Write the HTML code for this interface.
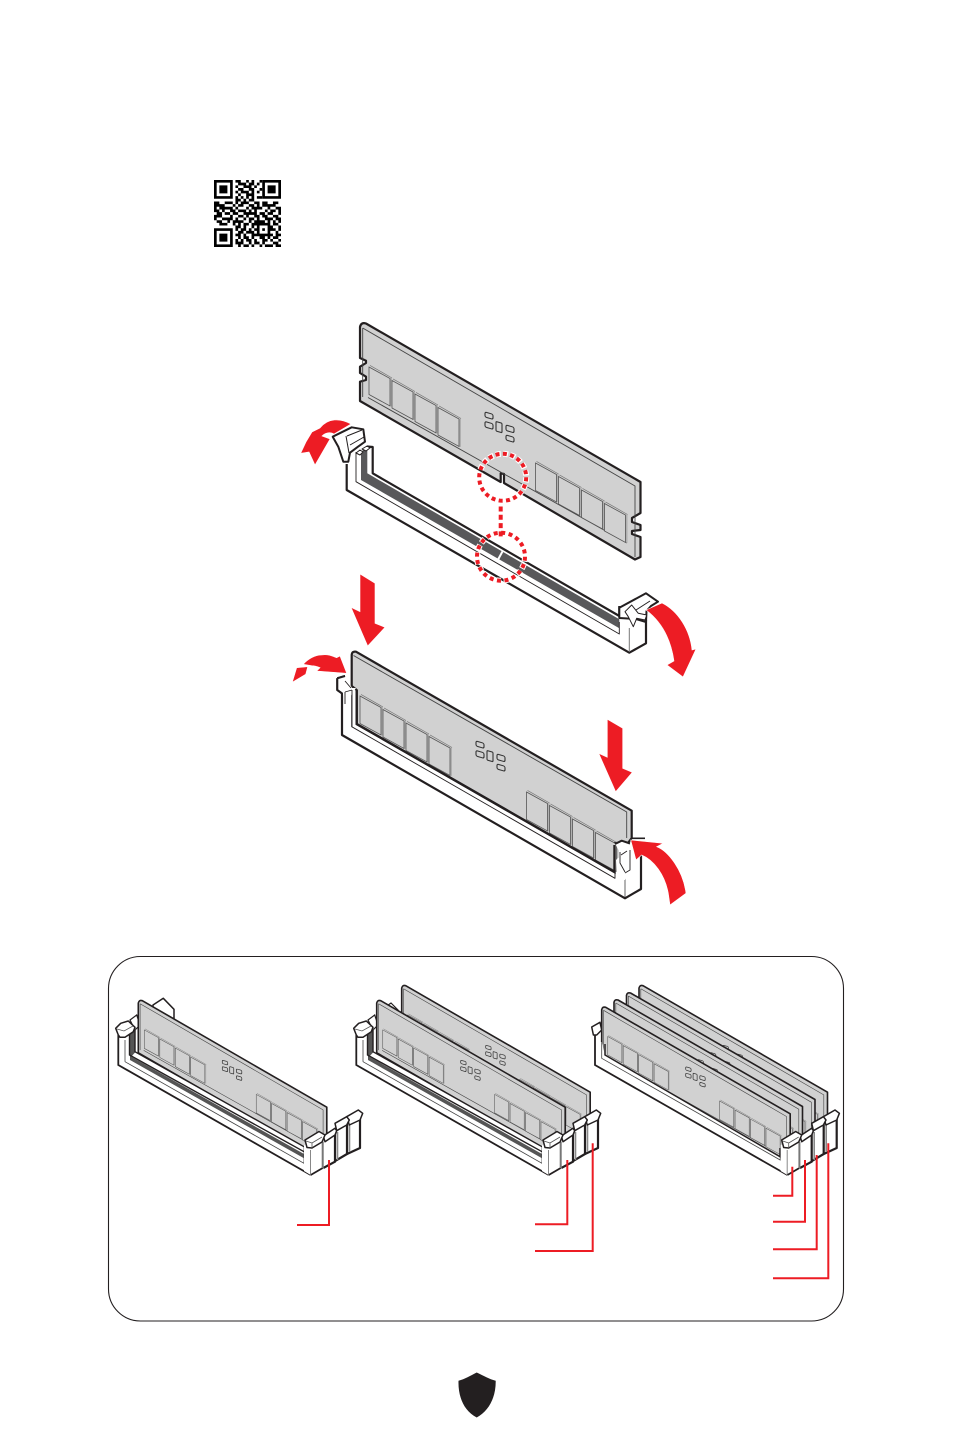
<!DOCTYPE html>
<html lang="en"><head><meta charset="utf-8"><title>Memory module installation</title>
<style>html,body{margin:0;padding:0;background:#fff}svg{display:block}</style></head>
<body>
<svg xmlns="http://www.w3.org/2000/svg" width="954" height="1431" viewBox="0 0 954 1431">
<defs>
<g id="chip">
  <polygon points="21,11.5 23,11 23,39.5 21,39" fill="#b0b0b0"/>
  <polygon points="0,0 21,11.5 21,39 0,27.5" fill="#d1d1d1" stroke="#555" stroke-width=".8"/>
  <polyline points="1,-1.6 23,11" fill="none" stroke="#777" stroke-width=".7"/>
</g>
<g id="comps" fill="#d1d1d1" stroke="#333" stroke-width="1.1">
  <rect width="8" height="5" rx="1.5" transform="translate(485,412) skewY(16)"/>
  <rect width="8" height="5.5" rx="1.5" transform="translate(485,421.5) skewY(16)"/>
  <rect width="6" height="9.5" rx="1" transform="translate(496,421.5) skewY(16)"/>
  <rect width="8" height="5.5" rx="1.5" transform="translate(506,425) skewY(16)"/>
  <rect width="8" height="5" rx="1.5" transform="translate(506,435) skewY(16)"/>
</g>
<g id="parts">
  <path d="M362.7,328L635,486V557M368,397.5L627,543M362.7,328V397" fill="none" stroke="#444" stroke-width=".9"/>
  <use href="#chip" x="369" y="367"/><use href="#chip" x="392" y="380.5"/><use href="#chip" x="415" y="394"/><use href="#chip" x="438" y="407.5"/>
  <use href="#chip" x="535.5" y="463"/><use href="#chip" x="558.5" y="476.5"/><use href="#chip" x="581.5" y="490"/><use href="#chip" x="604.5" y="503.5"/>
  <use href="#comps"/>
</g>
<g id="d">
  <path d="M360,327Q361,322 366,323.5L640.5,482V557L635,559.5L360,401Z" fill="#d1d1d1" stroke="#231f20" stroke-width="2.4" stroke-linejoin="round"/>
  <use href="#parts"/>
</g>
<g id="blocks" stroke="#231f20" stroke-linejoin="round">
  <polygon points="347,1122 360,1118 360,1148 347,1154" fill="#fff" stroke="none"/>
  <path d="M360,1118V1148L347,1154" fill="none" stroke-width="2.2"/>
  <path d="M349.5,1124V1152" stroke="#888" stroke-width="1.6" fill="none"/>
  <polygon points="346.7,1116.7 358.3,1110 362.7,1113.3 360,1120 349.3,1125" fill="#fff" stroke-width="1.5"/>
  <polygon points="335,1130 347,1124 347,1154 334,1161.7" fill="#fff" stroke="none"/>
  <path d="M347,1122V1154L334,1161.7" fill="none" stroke-width="2.2"/>
  <path d="M337.5,1132V1160" stroke="#888" stroke-width="1.6" fill="none"/>
  <polygon points="335,1123.3 346.7,1116.7 349.3,1120 346.7,1125 336.7,1130.7" fill="#fff" stroke-width="1.5"/>
  <polygon points="323.3,1138 335,1132 335,1161.7 323.3,1168" fill="#fff" stroke="none"/>
  <path d="M335,1132V1161.7L323.3,1168" fill="none" stroke-width="2.2"/>
  <polygon points="323.3,1136 335,1128.3 336.7,1130.7 335,1135 325,1141.7" fill="#fff" stroke-width="1.5"/>
</g>
<g id="frontEnd" stroke="#231f20" stroke-linejoin="round">
  <polygon points="304,1145 322.7,1140 322.7,1168 310.7,1175 304,1171" fill="#fff" stroke="none"/>
  <path d="M322.7,1168L310.7,1175" fill="none" stroke-width="1.8"/>
  <path d="M322.7,1142V1168" fill="none" stroke="#777" stroke-width="2"/>
  <path d="M310.5,1150V1174" fill="none" stroke="#888" stroke-width="1"/>
  <polygon points="305,1140 319,1131.5 325,1135 322,1142 312,1148 307,1147.5" fill="#fff" stroke-width="1.5"/>
  <path d="M306,1141L312,1143L322,1137M312,1143V1148" fill="none" stroke="#555" stroke-width=".8"/>
</g>
<g id="frontA">
  <polygon points="118.3,1045 118.3,1065 310.7,1175 310,1150 304,1146.7 135,1051.7 129.3,1035 125,1032" fill="#fff"/>
  <polygon points="129.5,1031 135.5,1028 135.5,1052 130,1058" fill="#555"/>
  <polygon points="130,1056 304,1154 304,1158.3 130,1060" fill="#555"/>
  <path d="M118.3,1035V1065L310.7,1175" fill="none" stroke="#231f20" stroke-width="1.8"/>
  <path d="M125,1061.7L304,1163.3V1146M125,1040V1061.7" fill="none" stroke="#444" stroke-width=".8"/>
  <path d="M129.5,1032V1055L304,1151.7M135,1030V1051.7L304,1146.7" fill="none" stroke="#231f20" stroke-width="1.4"/>
  <use href="#frontEnd"/>
  <polygon points="115.7,1028.3 120.7,1023.3 128.3,1021 135,1027.3 133.3,1031.7 125,1037.3 120,1037.3 118.3,1035" fill="#fff" stroke="#231f20" stroke-width="1.5" stroke-linejoin="round"/>
  <path d="M117,1029L124,1031L133,1026" fill="none" stroke="#555" stroke-width=".8"/>
</g>
<g id="frontB">
  <polygon points="118.3,1042 125,1042 128.3,1055 304,1156.7 310,1148 311,1175 118.3,1065" fill="#fff"/>
  <path d="M118.3,1035V1065L310.7,1175" fill="none" stroke="#231f20" stroke-width="1.8"/>
  <path d="M125,1042V1058.3L303.5,1160V1150" fill="none" stroke="#444" stroke-width=".8"/>
  <path d="M128.3,1044V1055L303.3,1156.7V1148" fill="none" stroke="#231f20" stroke-width="1.5"/>
  <use href="#frontEnd"/>
</g>
</defs>
<rect width="954" height="1431" fill="#fff"/>

<!-- QR -->
<g transform="translate(214,180) scale(2.68)" fill="none" stroke="#000">
  <path stroke-width="1" d="M.5 .5h6v6h-6zM18.5 .5h6v6h-6zM.5 18.5h6v6h-6z"/>
  <path fill="#000" stroke="none" d="M2 2h3v3H2zM20 2h3v3h-3zM2 20h3v3H2z"/>
  <path stroke-width="1" d="M8 .5h2M12 .5h1M14 .5h1M17 .5h1M9 1.5h3M13 1.5h2M16 1.5h1M8 2.5h1M11 2.5h3M15 2.5h1M9 3.5h2M13 3.5h2M17 3.5h1M8 4.5h1M10 4.5h3M14 4.5h1M16 4.5h1M9 5.5h1M12 5.5h3M8 6.5h1M10 6.5h1M12 6.5h1M14 6.5h1M16 6.5h2M8 7.5h2M11 7.5h1M13 7.5h2
  M0 8.5h2M4 8.5h3M8 8.5h1M10 8.5h3M15 8.5h2M18 8.5h2M22 8.5h2
  M0 9.5h4M7 9.5h1M9 9.5h2M13 9.5h2M16 9.5h1M18 9.5h5
  M0 10.5h1M2 10.5h5M8 10.5h1M12 10.5h1M14 10.5h4M20 10.5h1M23 10.5h2
  M0 11.5h2M3 11.5h1M6 11.5h2M9 11.5h3M13 11.5h1M15 11.5h1M19 11.5h1M21 11.5h2M24 11.5h1
  M1 12.5h2M4 12.5h2M7 12.5h2M11 12.5h5M17 12.5h2M20 12.5h2M24 12.5h1
  M0 13.5h3M6 13.5h1M9 13.5h2M12 13.5h1M15 13.5h2M18 13.5h2M22 13.5h2
  M0 14.5h1M3 14.5h4M8 14.5h1M11 14.5h1M13 14.5h2M16 14.5h1M19 14.5h3M23 14.5h2
  M1 15.5h2M5 15.5h1M7 15.5h4M13 15.5h1M15 15.5h4M20 15.5h1M22 15.5h1M24 15.5h1
  M2 16.5h3M7 16.5h1M9 16.5h1M11 16.5h2M14 16.5h7M22 16.5h2
  M8 17.5h2M11 17.5h1M14 17.5h1M16 17.5h1M20 17.5h2M24 17.5h1
  M8 18.5h1M10 18.5h2M13 18.5h1M15 18.5h2M18 18.5h1M20 18.5h3M24 18.5h1
  M9 19.5h2M12 19.5h3M16 19.5h1M20 19.5h1M23 19.5h1
  M8 20.5h2M11 20.5h1M14 20.5h8M23 20.5h2
  M9 21.5h1M11 21.5h2M14 21.5h1M17 21.5h2M20 21.5h1M22 21.5h2
  M8 22.5h1M10 22.5h1M12 22.5h2M15 22.5h1M18 22.5h2M21 22.5h1M24 22.5h1
  M8 23.5h3M13 23.5h1M15 23.5h2M18 23.5h1M22 23.5h2
  M9 24.5h1M11 24.5h2M14 24.5h1M17 24.5h1M19 24.5h3M23 24.5h2"/>
</g>

<!-- Top slot -->
<g stroke="#231f20" stroke-linejoin="round">
  <polygon points="346.7,470 346.7,490 629.3,652.7 646,643.3 646,620 619.3,606 619.3,616 372.7,473.3 372.7,446.7 360,446" fill="#fff" stroke="none"/>
  <polygon points="361,451.7 367.3,447 367.3,473.3 619.3,619.3 619.3,628.3 361,480" fill="#58585a" stroke="none"/>
  <path d="M497,561.5L503,550.5" stroke="#fff" stroke-width="2" fill="none"/>
  <path d="M346.7,464V490L629.3,652.7L646,643.3V620" fill="none" stroke-width="2.2"/>
  <path d="M367,446.5L372.7,447V473.3L619.3,616V606" fill="none" stroke-width="2.2"/>
  <path d="M356,452V481.7L619.3,634V622" fill="none" stroke-width=".9"/>
  <path d="M629.3,652V628" fill="none" stroke="#777" stroke-width="1"/>
  <polygon points="332.7,436.7 351.7,427.3 363.3,429.3 365,441.7 358,446.7 350,452.7 348.3,461.7 343.3,461.7 338.3,446.7" fill="#fff" stroke-width="2"/>
  <path d="M346,436L349,453M347,436L362,430M350,445L364,437" fill="none" stroke-width="1"/>
  <polygon points="356,453 360,450 363,452 360,455" fill="#fff" stroke-width="1"/>
  <polygon points="362,449 367,446 370,448 366,451" fill="#fff" stroke-width="1"/>
  <polygon points="619.3,607.7 646,593.3 658,601.7 651,606 646.5,611 646,622 636,619 619.3,618" fill="#fff" stroke-width="2"/>
  <polygon points="625,611.7 631.7,605 638.3,613.3 646.7,615 645,620 636.7,618.3 633.3,626.7 628.3,616.7" fill="#fff" stroke-width="1"/>
  <path d="M636,610L650,601" fill="none" stroke-width="1"/>
</g>

<!-- Top DIMM -->
<path d="M360,327Q361,322 366,323.5L640.5,482V513L632,518V522L640.5,525V530L632,531V534L640.5,537V557L635,559.5L504,483V474L500.7,473.3V482L360,401V381.7L366,380V376.7L360,373V366.7L366,363V360.7L360,358Z" fill="#d1d1d1" stroke="#231f20" stroke-width="2.2" stroke-linejoin="round"/>
<use href="#parts"/>

<!-- Dotted circles -->
<g fill="none">
  <circle cx="502.7" cy="477.3" r="23.5" stroke="#fff" stroke-width="6" stroke-dasharray="5 2.4"/>
  <circle cx="501" cy="556.7" r="24" stroke="#fff" stroke-width="6" stroke-dasharray="5 2.5"/>
  <circle cx="502.7" cy="477.3" r="23.5" stroke="#ed1c24" stroke-width="4" stroke-dasharray="4 3.38"/>
  <circle cx="501" cy="556.7" r="24" stroke="#ed1c24" stroke-width="4" stroke-dasharray="4 3.54"/>
  <path d="M500.7,506.5V537" stroke="#ed1c24" stroke-width="4" stroke-dasharray="5 3.3"/>
</g>

<!-- Lower slot + DIMM -->
<g stroke="#231f20" stroke-linejoin="round">
  <polygon points="341.7,693 341.7,735 625,898.3 641,889 641,853 615,843 615,878 351.7,726.7 351.7,690" fill="#fff" stroke="none"/>
  <path d="M337.3,678.3L345,676M337.3,678.3V690L342,693.3V735L625,898.3L641,889V846" fill="none" stroke-width="2.2"/>
  <path d="M351.7,694V726.7L615,878.3V860" fill="none" stroke-width=".9"/>
  <path d="M625,897V872" fill="none" stroke="#666" stroke-width="1"/>
  <path d="M631.7,838.3H645" fill="none" stroke-width="1.6"/>
</g>
<path d="M351.7,655Q352,651 356,651.7L631.7,810.7V838L628,843L614.5,843V872L356.7,724V690L351.7,686Z" fill="#d1d1d1" stroke="#231f20" stroke-width="2.2" stroke-linejoin="round"/>
<path d="M353.5,655.5L626.7,812V838" fill="none" stroke="#444" stroke-width=".9"/>
<g transform="translate(-9,329)">
  <use href="#chip" x="369" y="367"/><use href="#chip" x="392" y="380.5"/><use href="#chip" x="415" y="394"/><use href="#chip" x="438" y="407.5"/>
  <use href="#chip" x="535.5" y="463"/><use href="#chip" x="558.5" y="476.5"/><use href="#chip" x="581.5" y="490"/><use href="#chip" x="604.5" y="503.5"/>
  <use href="#comps"/>
</g>
<path d="M356.7,690V724L614.5,872V845" fill="none" stroke="#231f20" stroke-width="2.4"/>
<g stroke="#231f20" stroke-linejoin="round">
  <polygon points="615,843.3 621.7,840.7 630,843.5 630,850 629,868 625,880 617,880 616,860 621,855" fill="#fff" stroke="none"/>
  <path d="M615,844L621.7,840.7L630,843.5" fill="none" stroke-width="2"/>
  <path d="M621,855L627,851M620,852V863L625,872M630,850V870L625,873" fill="none" stroke-width=".9"/>
  <polygon points="337.3,678.3 345,676 352,688 356,688 352,694 348,700 345,706 343,694 337.3,690" fill="#fff" stroke="none"/>
  <path d="M337.3,678.3L345,676M337.3,678.3V690L342,693.3V735" fill="none" stroke-width="2"/>
  <path d="M345,681L351,688M345,692L352,690M345,692V704M352,690V727" fill="none" stroke-width=".9"/>
</g>

<!-- Arrows -->
<g fill="#ed1c24" stroke="#fff" stroke-width=".6">
  <polygon points="360,574 375,583.3 375,623.3 385,627.3 367.7,646 351,607.3 360,611.7"/>
  <polygon points="607.3,719.3 622.7,728.3 622.7,768.3 632.3,772.3 615.7,791.7 598.7,753.3 607.3,757.3"/>
  <path d="M351,424C340,418 328,418 320,428L312,432L306,442L300.7,453.3L309,452L315,465L330,439L322,436C326,432 331,432 334,434Z"/>
  <path d="M646,610L662,603C678,611 690,630 692,650L696,649L683,677L667,665L674,661C671,640 662,622 646,610Z"/>
  <path d="M303.3,664.3C308,659 315,655 321.7,655C328,654 332,656 336.7,657.7L340,656L346.7,673.3L316.7,671L320,667.7C316,666 313,665.7 311.7,665.7Z"/>
  <path d="M296.7,667.7L307.7,666.7L305.7,674.3L292.3,682.3Z"/>
  <path d="M630.7,840L663.3,843.3L656.7,846.7C668,851 683,870 686,893.3L670,905L668.3,893.3C665,875 654,860 641.7,855L636,860Z"/>
</g>

<!-- Panel -->
<rect x="108.5" y="956.5" width="735" height="364.5" rx="32" ry="32" fill="#fff" stroke="#231f20" stroke-width="1.1"/>

<!-- Group 1 -->
<polygon points="153,1005 163.3,998.3 174,1009.3 174,1019 165,1014 153,1008" fill="#fff" stroke="#231f20" stroke-width="1.5" stroke-linejoin="round"/>
<polygon points="130,1020 136.7,1015 140,1025 135,1030" fill="#fff" stroke="#231f20" stroke-width="1.2"/>
<use href="#d" transform="translate(138.3,1001.7) scale(.672) translate(-360,-325)"/>
<use href="#blocks"/>
<use href="#frontA"/>

<!-- Group 2 -->
<g transform="translate(238,0)">
  <polygon points="130,1020 136.7,1015 140,1025 135,1030" fill="#fff" stroke="#231f20" stroke-width="1.2"/>
  <polygon points="146,1008 153,1003 160,1010 154,1014" fill="#fff" stroke="#231f20" stroke-width="1.2"/>
  <use href="#d" transform="translate(163.7,986.7) scale(.672) translate(-360,-325)"/>
  <use href="#d" transform="translate(138.7,1001.7) scale(.672) translate(-360,-325)"/>
  <use href="#blocks"/>
  <use href="#frontA"/>
</g>

<!-- Group 3 -->
<g transform="translate(476.7,0)">
  <polygon points="115,1027 123.3,1022.3 125,1030 120,1035 116.7,1035" fill="#fff" stroke="#231f20" stroke-width="1.5" stroke-linejoin="round"/>
  <use href="#d" transform="translate(162.3,986.7) scale(.672) translate(-360,-325)"/>
  <use href="#d" transform="translate(149.8,994) scale(.672) translate(-360,-325)"/>
  <use href="#d" transform="translate(137.3,1001) scale(.672) translate(-360,-325)"/>
  <use href="#d" transform="translate(125,1008.3) scale(.672) translate(-360,-325)"/>
  <use href="#blocks"/>
  <use href="#frontB"/>
</g>

<!-- Red leaders -->
<g fill="none" stroke="#ed1c24" stroke-width="2">
  <path d="M329,1160V1225H297"/>
  <path d="M567.3,1160V1224.3H535"/>
  <path d="M592.7,1143.3V1251H535"/>
  <path d="M792.3,1166.7V1195.7H773"/>
  <path d="M805,1160V1221.7H773"/>
  <path d="M816.7,1155V1249.3H773"/>
  <path d="M828.3,1143.3V1278.3H773"/>
</g>

<!-- Shield -->
<path d="M476.7,1372.5C470,1376 465,1379 458.5,1380.7C458,1397 464,1411 476.7,1417.5C489,1411 496,1397 495.7,1380.7C489,1379 484,1376 476.7,1372.5Z" fill="#231f20"/>
</svg>
</body></html>
